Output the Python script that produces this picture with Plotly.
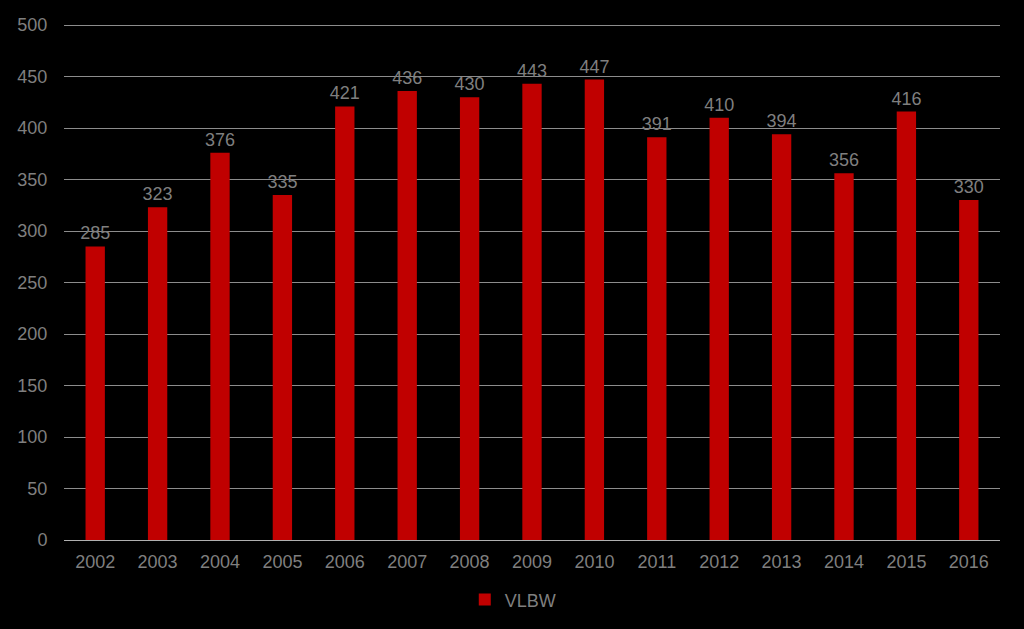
import plotly.graph_objects as go

years = ["2002", "2003", "2004", "2005", "2006", "2007", "2008", "2009",
         "2010", "2011", "2012", "2013", "2014", "2015", "2016"]
vlbw = [285, 323, 376, 335, 421, 436, 430, 443, 447, 391, 410, 394, 356, 416, 330]
y_ticks = [0, 50, 100, 150, 200, 250, 300, 350, 400, 450, 500]

fig = go.Figure()
fig.add_trace(go.Bar(
    x=years, y=vlbw, name="VLBW",
    marker=dict(color="#C00000", line=dict(width=0)),
    text=[str(v) for v in vlbw], textposition="outside",
    textfont=dict(color="#7f7f7f", size=18),
    constraintext="none",
    cliponaxis=False,
))
fig.update_layout(
    width=1024, height=629,
    paper_bgcolor="black", plot_bgcolor="black",
    font=dict(family="Liberation Sans, Arial, sans-serif", color="#7f7f7f", size=18),
    margin=dict(l=64, r=24, t=24, b=89, autoexpand=False),
    bargap=0.69,
    showlegend=True,
    legend=dict(orientation="h", x=0.48, xanchor="center", y=-0.08, yanchor="top",
                font=dict(size=18, color="#7f7f7f")),
    xaxis=dict(showgrid=False, showline=False, ticks="outside", ticklen=5,
               tickcolor="black", tickfont=dict(size=18), automargin=False),
    yaxis=dict(range=[0, 501], tickvals=y_ticks, showgrid=True,
               gridcolor="#8c8c8c", gridwidth=1, zeroline=True,
               zerolinecolor="#b0b0b0", zerolinewidth=1, automargin=False,
               ticks="outside", ticklen=12, tickcolor="black", tickfont=dict(size=18)),
)
fig.write_html("out.html", config={"displayModeBar": False})
with open("out.html", "r", encoding="utf-8") as f:
    html = f.read()
html = html.replace("<head>", "<head><style>html,body{margin:0;padding:0;background:black;}</style>", 1)
with open("out.html", "w", encoding="utf-8") as f:
    f.write(html)
